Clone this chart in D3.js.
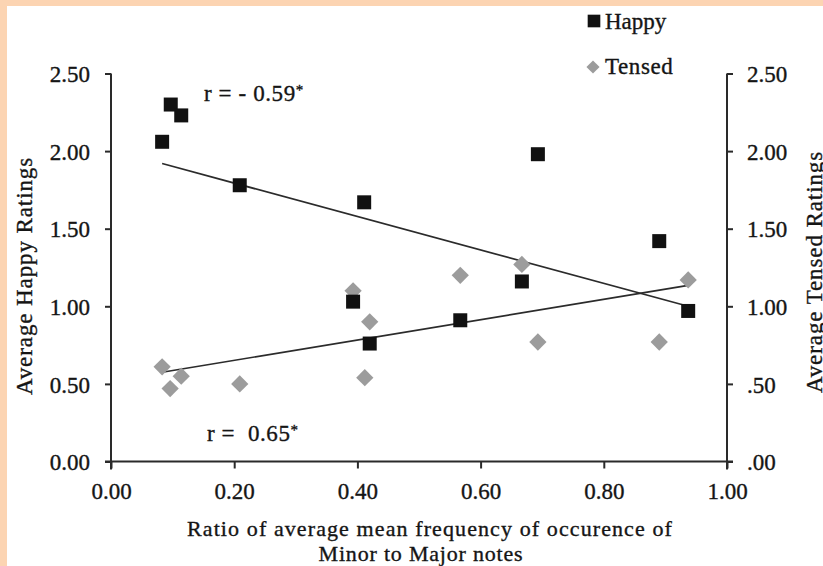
<!DOCTYPE html>
<html>
<head>
<meta charset="utf-8">
<script src="https://cdn.jsdelivr.net/npm/d3@7"></script>
<style>
	body { margin:0; padding:0; background:#fff; }
	#chart { width:823px; height:566px; overflow:hidden; }
	#chart text { font-family:"Liberation Serif","Times New Roman",serif; fill:#151515; stroke:#151515; stroke-width:0.35px; }
</style>
</head>
<body>
<div id="chart"></div>
<script>
// minor/major ratio for each piece
var ratioHappy = [0.083, 0.097, 0.114, 0.209, 0.411, 0.393, 0.420, 0.567, 0.667, 0.693, 0.890, 0.937];
var happyVals  = [2.06, 2.30, 2.23, 1.78, 1.67, 1.03, 0.76, 0.91, 1.16, 1.98, 1.42, 0.97];
var ratioTensed = [0.083, 0.096, 0.114, 0.209, 0.393, 0.420, 0.412, 0.567, 0.667, 0.693, 0.890, 0.937];
var tensedVals  = [0.61, 0.47, 0.55, 0.50, 1.10, 0.90, 0.54, 1.20, 1.27, 0.77, 0.77, 1.17];

// fitted lines (end points)
var trendX = [0.083, 0.937];
var happyTrend = [1.92, 1.00];
var tensedTrend = [0.575, 1.135];

var xTicks = [0, 0.2, 0.4, 0.6, 0.8, 1.0];
var yTicks = [0, 0.5, 1.0, 1.5, 2.0, 2.5];
var leftTickLabels = ["0.00", "0.50", "1.00", "1.50", "2.00", "2.50"];
var rightTickLabels = [".00", ".50", "1.00", "1.50", "2.00", "2.50"];
var xTickLabels = ["0.00", "0.20", "0.40", "0.60", "0.80", "1.00"];

var seriesNames = ["Happy", "Tensed"];
var corrLabels = ["r = - 0.59", "r =  0.65"];

(function () {
	'use strict'
	drawChart("chart");
})()

function drawChart(divIdStr){

	var W = 823, H = 566;
	var svg = d3.select("#"+divIdStr).append("svg")
		.attr("width", W)
		.attr("height", H);

	// page border (peach strip top / left)
	svg.append("rect").attr("x",0).attr("y",0).attr("width",W).attr("height",H).attr("fill","#fcd4b2");
	svg.append("rect").attr("x",7).attr("y",6).attr("width",W-7).attr("height",H-6).attr("fill","#ffffff");

	var x = d3.scaleLinear().domain([0, 1]).range([111, 727]);
	var y = d3.scaleLinear().domain([0, 2.5]).range([461.5, 73.5]);
	var axisCol = "#2a2a2a";
	var fs = "23px";

	// left axis
	var gl = svg.append("g").attr("class","leftAxis")
		.attr("transform","translate(" + x(0) + ",0)")
		.call(d3.axisLeft(y).tickValues(yTicks).tickSize(6).tickSizeOuter(0)
			.tickFormat(function(d, i){ return leftTickLabels[i]; }));
	gl.select(".domain").remove();
	gl.selectAll("line").attr("stroke", axisCol).attr("stroke-width", 2);
	gl.selectAll("text").attr("x", -21).attr("dy","0.36em").style("font-size", fs);

	// right axis
	var gr = svg.append("g").attr("class","rightAxis")
		.attr("transform","translate(" + x(1) + ",0)")
		.call(d3.axisRight(y).tickValues(yTicks).tickSize(6).tickSizeOuter(0)
			.tickFormat(function(d, i){ return rightTickLabels[i]; }));
	gr.select(".domain").remove();
	gr.selectAll("line").attr("stroke", axisCol).attr("stroke-width", 2);
	gr.selectAll("text").attr("x", 20).attr("dy","0.36em").style("font-size", fs);

	// bottom axis
	var gb = svg.append("g").attr("class","bottomAxis")
		.attr("transform","translate(0," + y(0) + ")")
		.call(d3.axisBottom(x).tickValues(xTicks).tickSize(7).tickSizeOuter(0)
			.tickFormat(function(d, i){ return xTickLabels[i]; }));
	gb.select(".domain").remove();
	gb.selectAll("line").attr("stroke", axisCol).attr("stroke-width", 2);
	gb.selectAll("text").attr("y", 37).attr("dy", 0).style("font-size", fs);

	// axis lines, crossing a little past each other like excel does
	svg.append("line").attr("x1", x(0)).attr("x2", x(0)).attr("y1", y(2.5)).attr("y2", y(0)+8)
		.attr("stroke", axisCol).attr("stroke-width", 2);
	svg.append("line").attr("x1", x(1)).attr("x2", x(1)).attr("y1", y(2.5)).attr("y2", y(0)+8)
		.attr("stroke", axisCol).attr("stroke-width", 2);
	svg.append("line").attr("x1", x(0)-6).attr("x2", x(1)+6).attr("y1", y(0)).attr("y2", y(0))
		.attr("stroke", axisCol).attr("stroke-width", 2);

	// trend lines
	var line = d3.line().x(function(d){ return x(d[0]); }).y(function(d){ return y(d[1]); });
	svg.append("path").attr("d", line(d3.zip(trendX, happyTrend)))
		.attr("fill","none").attr("stroke","#2b2b2b").attr("stroke-width",1.7);
	svg.append("path").attr("d", line(d3.zip(trendX, tensedTrend)))
		.attr("fill","none").attr("stroke","#2b2b2b").attr("stroke-width",1.7);

	var sq = d3.symbol().type(d3.symbolSquare).size(196);
	var dm = d3.symbol().type(d3.symbolDiamond2).size(190);

	// tensed first, happy squares sit on top
	svg.append("g").selectAll("path")
		.data(d3.zip(ratioTensed, tensedVals))
		.enter().append("path")
		.attr("d", dm)
		.attr("transform", function(d){ return "translate(" + x(d[0]) + "," + y(d[1]) + ")"; })
		.attr("fill", "#9c9c9c");

	svg.append("g").selectAll("path")
		.data(d3.zip(ratioHappy, happyVals))
		.enter().append("path")
		.attr("d", sq)
		.attr("transform", function(d){ return "translate(" + x(d[0]) + "," + y(d[1]) + ")"; })
		.attr("fill", "#111");

	// r labels
	var r1 = svg.append("text").attr("x", 204).attr("y", 101).style("font-size", fs).style("letter-spacing","0.6px")
		.attr("xml:space","preserve");
	r1.append("tspan").text(corrLabels[0]);
	r1.append("tspan").attr("dy", -6).style("font-size","15px").text("*");
	var r2 = svg.append("text").attr("x", 207).attr("y", 441).style("font-size", fs).style("letter-spacing","0.6px")
		.attr("xml:space","preserve");
	r2.append("tspan").text(corrLabels[1]);
	r2.append("tspan").attr("dy", -6).style("font-size","15px").text("*");

	// legend
	svg.append("path").attr("d", d3.symbol().type(d3.symbolSquare).size(160))
		.attr("transform","translate(594,21)").attr("fill","#111");
	svg.append("text").attr("x", 605).attr("y", 29).style("font-size", fs).text(seriesNames[0]);
	svg.append("path").attr("d", d3.symbol().type(d3.symbolDiamond2).size(110))
		.attr("transform","translate(593,67)").attr("fill","#9c9c9c");
	svg.append("text").attr("x", 605).attr("y", 74).style("font-size", fs).style("letter-spacing","0.6px").text(seriesNames[1]);

	// axis titles
	svg.append("text").attr("text-anchor","middle")
		.attr("transform","translate(32,276) rotate(-90)")
		.style("font-size", fs).style("letter-spacing","0.9px")
		.text("Average Happy Ratings");
	svg.append("text").attr("text-anchor","middle")
		.attr("transform","translate(822,272) rotate(-90)")
		.style("font-size", fs).style("letter-spacing","0.9px")
		.text("Average Tensed Ratings");

	svg.append("text").attr("text-anchor","middle").attr("x", 430).attr("y", 536)
		.style("font-size", "22px").style("letter-spacing","1.1px")
		.text("Ratio of average mean frequency of occurence of");
	svg.append("text").attr("text-anchor","middle").attr("x", 421).attr("y", 561)
		.style("font-size", "22px").style("letter-spacing","0.8px")
		.text("Minor to Major notes");
}
</script>
</body>
</html>
